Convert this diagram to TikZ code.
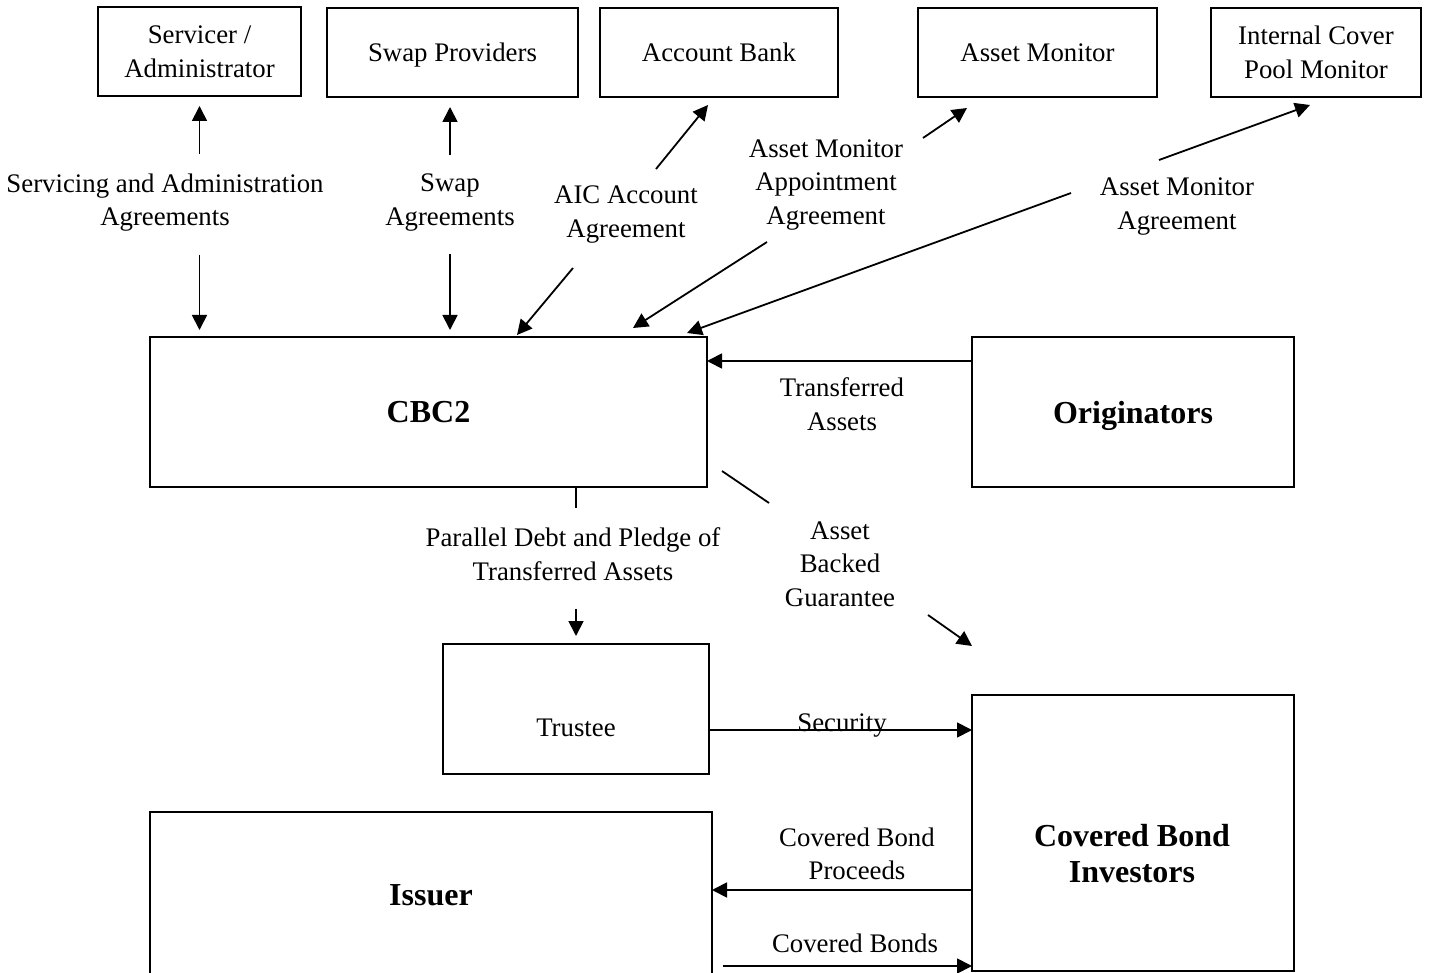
\documentclass[tikz,border=0pt]{standalone}
\usepackage{fontspec}
\setmainfont{Liberation Serif}
\usetikzlibrary{arrows.meta}

\begin{document}
\begin{tikzpicture}[x=0.5pt, y=-0.5pt,
        box/.style={draw, line width=1pt, inner sep=0pt, outer sep=0pt, align=center, font=\fontsize{13.4pt}{16.8pt}\selectfont},
        bigbox/.style={box, font=\fontsize{16pt}{18pt}\selectfont\bfseries},
        lbl/.style={inner sep=0pt, align=center, font=\fontsize{13.4pt}{16.8pt}\selectfont},
        biglbl/.style={lbl, font=\fontsize{16pt}{18pt}\selectfont\bfseries},
        conn/.style={line width=0.9pt},
        arr/.style={conn, -{Triangle[length=7.5pt, width=7.5pt]}}]
        \useasboundingbox (0,0) rectangle (1430,973);
        \clip (0,0) rectangle (1430,973);
        \begin{scope}[every node/.style={box, minimum height=44.5pt}]
                \node[minimum width=101.5pt] (Serv) at (199.5,51.5) {Servicer /\\Administrator};
                \node[minimum width=125.5pt, text depth=0pt] (Swap) at (452.5,52.5) {Swap Providers};
                \node[minimum width=119pt] (Bank) at (719,52.5) {Account Bank};
                \node[minimum width=119.5pt] (Mon) at (1037.5,52.5) {Asset Monitor};
                \node[minimum width=105pt] (ICPM) at (1316,52.5) {Internal Cover\\Pool Monitor};
        \end{scope}
        \begin{scope}[every node/.style={bigbox}]
                \node[minimum width=278.5pt, minimum height=75pt] (CBC) at (428.5,412) {CBC2};
                \node[minimum width=161pt, minimum height=75pt, text depth=0pt] (Orig) at (1133,412) {Originators};
                \node[minimum width=281pt, minimum height=83pt] (Iss) at (431,895) {Issuer};
                \node[minimum width=161pt, minimum height=138pt] (CBI) at (1133,833) {};
        \end{scope}
        \node[box, minimum width=133pt, minimum height=65pt] (Trust) at (576,709) {};
        \node[lbl, anchor=base] (TrustT) at (576,736) {Trustee};
        \node[biglbl] (CBIT) at (1132,854) {Covered Bond\\Investors};
        % agreement labels
        \begin{scope}[every node/.style={lbl}]
                \node (LServ) at (165,202.5) {Servicing and Administration\\Agreements};
                \node (LSwap) at (450,202.5) {Swap\\Agreements};
                \node (LAIC) at (626,214.5) {AIC Account\\Agreement};
                \node (LAppt) at (826,185) {Asset Monitor\\Appointment\\Agreement};
                \node (LAMA) at (1177,206.5) {Asset Monitor\\Agreement};
                \node (LTA) at (842,404) {Transferred\\Assets};
                \node (LABG) at (840,564) {Asset\\Backed\\Guarantee};
                \node (LPD) at (573,554) {Parallel Debt and Pledge of\\Transferred Assets};
                \node[anchor=base] (LSec) at (842,731) {Security};
                \node (LCBP) at (857,854) {Covered Bond\\Proceeds};
                \node[anchor=base] (LCB) at (855,952) {Covered Bonds};
        \end{scope}
        \coordinate (AICup) at (656,169);
        \coordinate (AICdn) at (573,268);
        \coordinate (APup) at (923,138);
        \coordinate (APdn) at (767,242);
        \coordinate (AMup) at (1159,160);
        \coordinate (AMdn) at (1071,193);
        \coordinate (GB) at (769,503);
        \coordinate (GC) at (928,615);
        % connectors
        \draw[arr, shorten <=9.5pt, shorten >=5pt] (Serv.south |- LServ.north) -- (Serv.south);
        \draw[arr, shorten <=11.5pt, shorten >=3.5pt] (Serv.south |- LServ.south) -- (Serv.south |- CBC.north);
        \draw[arr, shorten <=9.5pt, shorten >=5pt] (LSwap.north) -- (LSwap.north |- Swap.south);
        \draw[arr, shorten <=11.5pt, shorten >=3.5pt] (LSwap.south) -- (LSwap.south |- CBC.north);
        \draw[arr] (AICup) -- ([xshift=-5.5pt, yshift=-4pt]Bank.south);
        \draw[arr] (AICdn) -- ([xshift=44.25pt, yshift=1pt]CBC.north);
        \draw[arr] (APup) -- ([xshift=-35.25pt, yshift=-5.5pt]Mon.south);
        \draw[arr] (APdn) -- ([xshift=102.25pt, yshift=4.5pt]CBC.north);
        \draw[arr] (AMup) -- ([xshift=-3pt, yshift=-4pt]ICPM.south);
        \draw[arr] (AMdn) -- ([xshift=129.25pt, yshift=2pt]CBC.north);
        \draw[arr] ([yshift=-12pt]Orig.north west) -- ([yshift=-12pt]CBC.north east);
        \draw[conn] ([xshift=7.5pt, yshift=-29.5pt]CBC.east) -- (GB);
        \draw[arr] (GC) -- ([yshift=24.5pt]CBI.north west);
        \draw[conn, shorten >=9.5pt] (CBC.south -| Trust.north) -- (LPD.north -| Trust.north);
        \draw[arr, shorten <=14pt, shorten >=4pt] (LPD.south -| Trust.north) -- (Trust.north);
        \draw[arr] ([yshift=-10.5pt]Trust.east) -- ([yshift=-17.5pt]CBI.north west);
        \draw[arr] ([yshift=-97.5pt]CBI.north west) -- ([yshift=2.5pt]Iss.east);
        \draw[arr] ([xshift=5.5pt, yshift=-35.5pt]Iss.east) -- ([yshift=-135.5pt]CBI.north west);
\end{tikzpicture}
\end{document}
